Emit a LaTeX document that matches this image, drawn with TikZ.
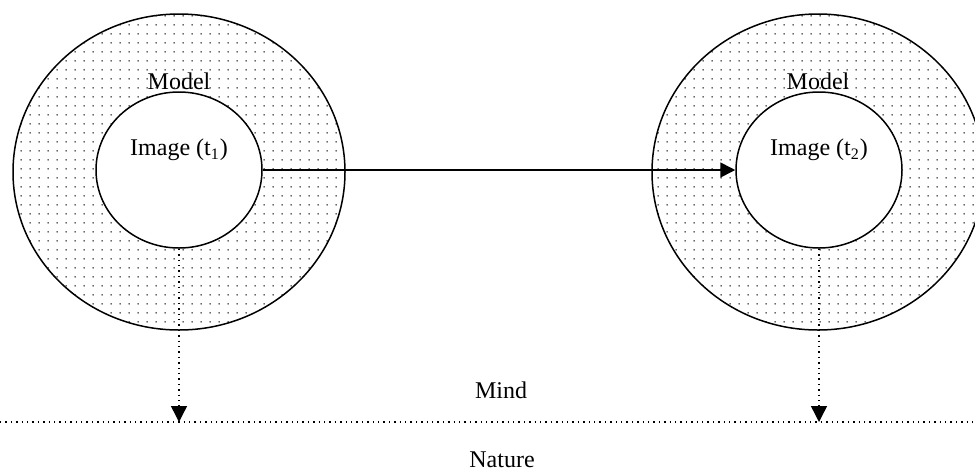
\documentclass[tikz,border=0pt]{standalone}
\usepackage{fontspec}
\setmainfont{Liberation Serif}
\usetikzlibrary{arrows.meta, shapes.geometric, patterns.meta, positioning}
\tikzdeclarepattern{
  name=modeldots,
  type=uncolored,
  bottom left={(0pt,0pt)},
  top right={(4.3pt,4.3pt)},
  tile size={(4.3pt,4.3pt)},
  code={\fill (2.15pt,2.15pt) circle (0.45pt);}
}
\tikzset{
  modelring/.style={draw, ellipse, line width=0.75pt, minimum width=166pt, minimum height=158pt, inner sep=0pt, pattern=modeldots, pattern color=black!80},
  imagering/.style={draw, ellipse, line width=0.75pt, minimum width=83pt, minimum height=78pt, inner sep=0pt, fill=white},
  lbl/.style={font=\fontsize{12}{14}\selectfont, inner sep=1pt}
}

\begin{document}
\begin{tikzpicture}[x=0.5pt, y=-0.5pt]
    \useasboundingbox (0,0) rectangle (975,472);

    % Models (outer rings)
    \node[modelring] (model1) at (179,172) {};
    \node[modelring] (model2) at (818,172) {};
    \node[lbl] (modeltxt1) at (179,81) {Model};
    \node[lbl] (modeltxt2) at (818,81) {Model};

    % Images (inner rings)
    \node[imagering] (image1) at (179,170) {};
    \node[imagering] (image2) at (819,170) {};
    \node[lbl] (imagetxt1) at (179,150) {Image (t\textsubscript{1})};
    \node[lbl] (imagetxt2) at (819,150) {Image (t\textsubscript{2})};

    % Mind / Nature boundary
    \coordinate (border1) at (0,422);
    \coordinate (border2) at (975,422);
    \draw[dotted, line width=0.7pt] (border1) -- (border2);
    \node[lbl] (mind) at (501,390) {Mind};
    \node[lbl] (nature) at (502,460) {Nature};

    % Arrows
    \draw[-{Triangle[length=7.5pt,width=7.5pt]}, line width=0.8pt] (image1.east) -- (image2.west);
    \draw[dotted, line width=0.7pt, -{Triangle[length=8pt,width=8pt]}] (image1.south) -- (image1.south |- border1);
    \draw[dotted, line width=0.7pt, -{Triangle[length=8pt,width=8pt]}] (image2.south) -- (image2.south |- border1);
\end{tikzpicture}
\end{document}
